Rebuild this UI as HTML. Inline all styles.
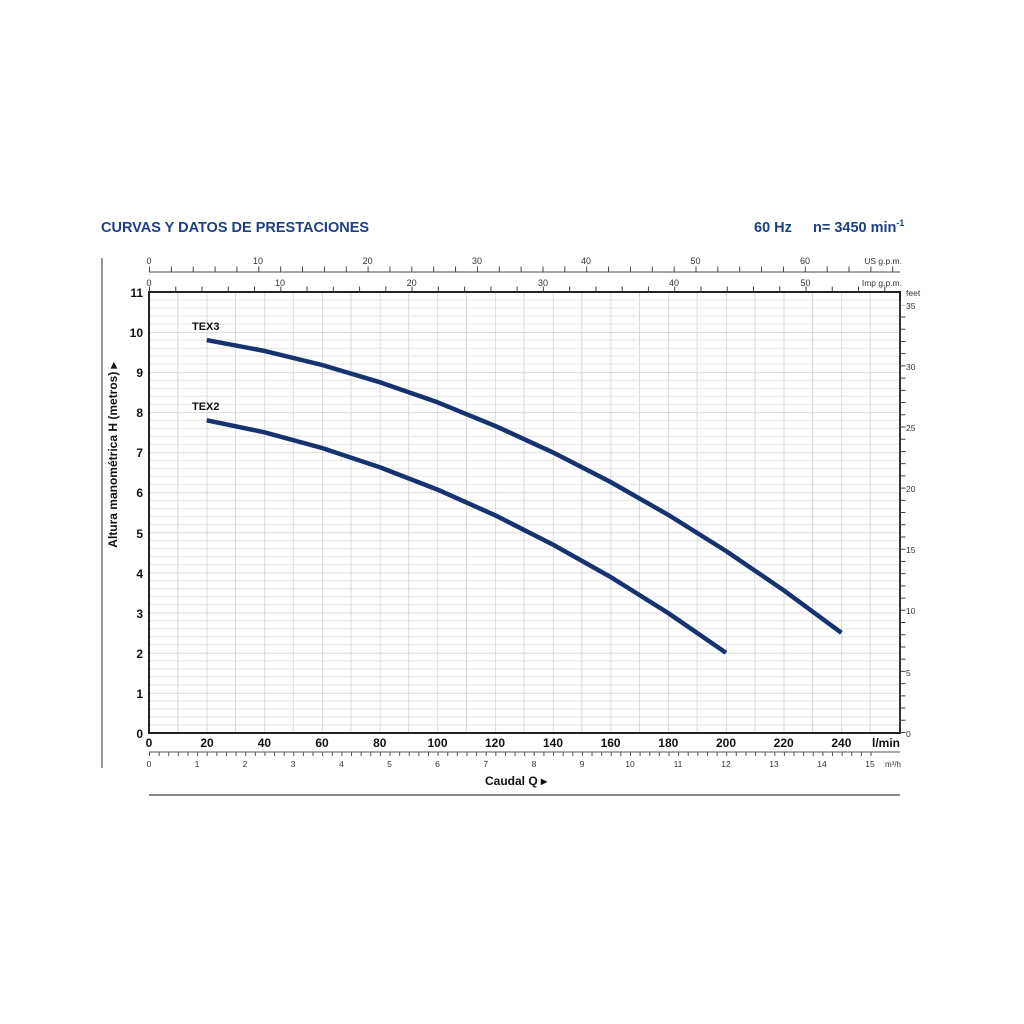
<!DOCTYPE html>
<html><head><meta charset="utf-8"><style>
html,body{margin:0;padding:0;background:#fff;}
svg{display:block;font-family:"Liberation Sans",sans-serif;}
</style></head><body>
<svg width="1024" height="1024" viewBox="0 0 1024 1024" xmlns="http://www.w3.org/2000/svg">
<defs>
<pattern id="g" x="149" y="292" width="57.7" height="40.09" patternUnits="userSpaceOnUse">
<line x1="0" y1="8.02" x2="57.7" y2="8.02" stroke="#e3e3e3" stroke-width="1"/>
<line x1="0" y1="16.04" x2="57.7" y2="16.04" stroke="#e3e3e3" stroke-width="1"/>
<line x1="0" y1="24.05" x2="57.7" y2="24.05" stroke="#e3e3e3" stroke-width="1"/>
<line x1="0" y1="32.07" x2="57.7" y2="32.07" stroke="#e3e3e3" stroke-width="1"/>
<line x1="0" y1="0" x2="57.7" y2="0" stroke="#c8c8c8" stroke-width="1.2"/>
<line x1="28.85" y1="0" x2="28.85" y2="40.09" stroke="#d8d8d8" stroke-width="1"/>
<line x1="0" y1="0" x2="0" y2="40.09" stroke="#c4c4c4" stroke-width="1.2"/>
</pattern>
</defs>
<text x="101" y="232" font-size="14.5" font-weight="bold" fill="#1d3f86">CURVAS Y DATOS DE PRESTACIONES</text>
<text x="754" y="232" font-size="14.5" font-weight="bold" fill="#1d3f86">60 Hz</text>
<text x="813" y="232" font-size="14.5" font-weight="bold" fill="#1d3f86">n= 3450 min<tspan font-size="9" dy="-6">-1</tspan></text>

<rect x="149" y="292" width="751" height="441" fill="url(#g)"/>
<rect x="149" y="292" width="751" height="441" fill="none" stroke="#222" stroke-width="2"/>

<line x1="149" y1="272" x2="900" y2="272" stroke="#444" stroke-width="1"/>
<line x1="149" y1="269" x2="900" y2="269" stroke="#444" stroke-width="5" stroke-dasharray="1 20.86"/>
<g font-size="9" fill="#333" text-anchor="middle">
<text x="149" y="264">0</text><text x="258" y="264">10</text><text x="367.6" y="264">20</text><text x="477" y="264">30</text><text x="586" y="264">40</text><text x="695.5" y="264">50</text><text x="805" y="264">60</text>
<text x="149" y="286">0</text><text x="280" y="286">10</text><text x="411.6" y="286">20</text><text x="543" y="286">30</text><text x="674" y="286">40</text><text x="805.5" y="286">50</text>
</g>
<text x="902" y="264" font-size="8.5" fill="#333" text-anchor="end">US g.p.m.</text>
<text x="902" y="286" font-size="8.5" fill="#333" text-anchor="end">Imp g.p.m.</text>
<line x1="149" y1="289" x2="900" y2="289" stroke="#444" stroke-width="5" stroke-dasharray="1 25.26"/>

<line x1="900" y1="733" x2="900" y2="300" stroke="#444" stroke-width="1"/>
<line x1="903" y1="733" x2="903" y2="305" stroke="#444" stroke-width="5" stroke-dasharray="1 11.22"/>
<g font-size="8.5" fill="#333">
<text x="906" y="296">feet</text>
<text x="906" y="309">35</text><text x="906" y="370">30</text><text x="906" y="431">25</text><text x="906" y="492">20</text><text x="906" y="553">15</text><text x="906" y="614">10</text><text x="906" y="676">5</text><text x="906" y="737">0</text>
</g>

<g font-size="12" font-weight="bold" fill="#111" text-anchor="end">
<text x="143" y="297">11</text><text x="143" y="337">10</text><text x="143" y="377">9</text><text x="143" y="417">8</text><text x="143" y="457">7</text><text x="143" y="497">6</text><text x="143" y="538">5</text><text x="143" y="578">4</text><text x="143" y="618">3</text><text x="143" y="658">2</text><text x="143" y="698">1</text><text x="143" y="738">0</text>
</g>
<text transform="translate(117,455) rotate(-90)" font-size="12" font-weight="bold" fill="#111" text-anchor="middle">Altura manométrica H (metros)  ▸</text>
<line x1="102" y1="258" x2="102" y2="768" stroke="#777" stroke-width="1.5"/>

<g font-size="12" font-weight="bold" fill="#111" text-anchor="middle">
<text x="149" y="747">0</text><text x="207" y="747">20</text><text x="264.4" y="747">40</text><text x="322" y="747">60</text><text x="379.8" y="747">80</text><text x="437.5" y="747">100</text><text x="495" y="747">120</text><text x="553" y="747">140</text><text x="610.6" y="747">160</text><text x="668.3" y="747">180</text><text x="726" y="747">200</text><text x="783.7" y="747">220</text><text x="841.4" y="747">240</text>
</g>
<text x="886" y="747" font-size="12" font-weight="bold" fill="#111" text-anchor="middle">l/min</text>
<line x1="149" y1="752" x2="900" y2="752" stroke="#555" stroke-width="1"/>
<line x1="149" y1="754" x2="872" y2="754" stroke="#555" stroke-width="4" stroke-dasharray="1 8.62"/>
<g font-size="8.5" fill="#333" text-anchor="middle">
<text x="149" y="767">0</text><text x="197" y="767">1</text><text x="245" y="767">2</text><text x="293" y="767">3</text><text x="341.5" y="767">4</text><text x="389.5" y="767">5</text><text x="437.5" y="767">6</text><text x="485.8" y="767">7</text><text x="534" y="767">8</text><text x="582" y="767">9</text><text x="630" y="767">10</text><text x="678" y="767">11</text><text x="726" y="767">12</text><text x="774" y="767">13</text><text x="822" y="767">14</text><text x="870" y="767">15</text>
</g>
<text x="885" y="767" font-size="8" fill="#333">m³/h</text>
<text x="485" y="785" font-size="12" font-weight="bold" fill="#111">Caudal  Q  ▸</text>
<line x1="149" y1="795" x2="900" y2="795" stroke="#888" stroke-width="2"/>

<text x="192" y="330" font-size="11" font-weight="bold" fill="#111">TEX3</text>
<text x="192" y="410" font-size="11" font-weight="bold" fill="#111">TEX2</text>
<polyline points="206.7,340.1 264.4,350.9 322.1,365.0 379.8,382.2 437.5,402.3 495.2,425.9 552.9,452.4 610.6,482.0 668.3,514.9 726,551.0 783.7,590.3 841.4,632.8" fill="none" stroke="#15336e" stroke-width="4.5" stroke-linejoin="round"/>
<polyline points="206.7,420.3 264.4,432.3 322.1,448.0 379.8,467.2 437.5,489.6 495.2,515.3 552.9,544.6 610.6,577.0 668.3,613.1 726,652.8" fill="none" stroke="#15336e" stroke-width="4.5" stroke-linejoin="round"/>
</svg>
</body></html>
